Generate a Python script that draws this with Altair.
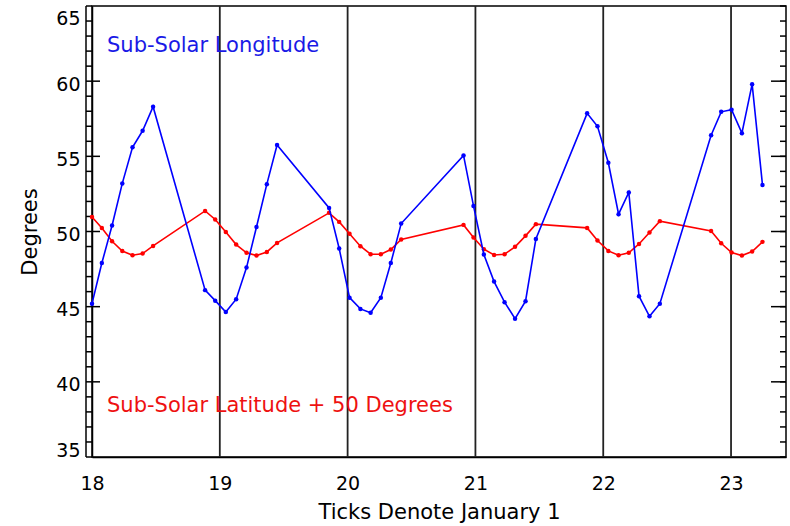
import altair as alt
import pandas as pd

days = [18.0, 18.077, 18.157, 18.237, 18.317, 18.396, 18.478,
        18.885, 18.964, 19.047, 19.128, 19.209, 19.287, 19.368, 19.448,
        19.855, 19.934, 20.015, 20.1, 20.18, 20.26, 20.338, 20.419,
        20.907, 20.985, 21.066, 21.146, 21.228, 21.31, 21.392, 21.473,
        21.874, 21.955, 22.04, 22.12, 22.2, 22.28, 22.362, 22.443,
        22.844, 22.923, 23.004, 23.085, 23.165, 23.246]

longitude = [45.2, 47.9, 50.4, 53.2, 55.6, 56.7, 58.3,
             46.1, 45.4, 44.65, 45.5, 47.6, 50.3, 53.15, 55.75,
             51.57, 48.87, 45.6, 44.85, 44.6, 45.6, 47.9, 50.53,
             55.06, 51.7, 48.47, 46.67, 45.3, 44.2, 45.36, 49.5,
             57.86, 57.0, 54.57, 51.15, 52.6, 45.7, 44.36, 45.2,
             56.4, 57.96, 58.1, 56.54, 59.8, 53.1]

latitude_plus_50 = [50.97, 50.24, 49.35, 48.7, 48.42, 48.53, 49.04,
                    51.37, 50.8, 49.97, 49.13, 48.58, 48.4, 48.64, 49.24,
                    51.24, 50.64, 49.85, 49.02, 48.49, 48.49, 48.8, 49.47,
                    50.44, 49.6, 48.82, 48.44, 48.49, 48.98, 49.71, 50.49,
                    50.24, 49.4, 48.71, 48.42, 48.58, 49.17, 49.93, 50.69,
                    50.04, 49.22, 48.6, 48.4, 48.67, 49.31]

jan1_ticks = [19, 20, 21, 22, 23]
x_labels = [18, 19, 20, 21, 22, 23]
y_minor = list(range(35, 66))
y_labels = [35, 40, 45, 50, 55, 60, 65]
y_major_inner = [40, 45, 50, 55, 60]

label_long = "Sub-Solar Longitude"
label_lat = "Sub-Solar Latitude + 50 Degrees"
x_title = "Ticks Denote January 1"
y_title = "Degrees"

FONT = "DejaVu Sans"
W, H = 694, 451

df = pd.DataFrame({"day": days, "lon": longitude, "lat": latitude_plus_50})

xscale = alt.Scale(domain=[18, 23.43], nice=False, zero=False)
yscale = alt.Scale(domain=[35, 65], nice=False, zero=False)

base = alt.Chart(df)

lon_line = base.mark_line(color="#0000ff", strokeWidth=1.6,
                          point=alt.OverlayMarkDef(color="#0000ff", size=20, filled=True)).encode(
    x=alt.X("day:Q", scale=xscale,
            axis=alt.Axis(values=x_labels, format="d", title=x_title, tickSize=0, labelPadding=17,
                          labelFlush=False, labelOverlap=False,
                          grid=False, labelFontSize=19, titleFontSize=21, titlePadding=8,
                          labelFont=FONT, titleFont=FONT, titleFontWeight="normal",
                          labelColor="black", titleColor="black", domainColor="black",
                          domainWidth=1.5)),
    y=alt.Y("lon:Q", scale=yscale,
            axis=alt.Axis(values=y_labels, format="d", title=y_title, tickSize=0, labelPadding=12,
                          labelFlush=True, labelOffset=3, labelOverlap=False,
                          grid=False, labelFontSize=19, titleFontSize=21, titlePadding=15,
                          labelFont=FONT, titleFont=FONT, titleFontWeight="normal",
                          labelColor="black", titleColor="black", domainColor="black",
                          domainWidth=1.5)),
)

lat_line = base.mark_line(color="#ff0000", strokeWidth=1.6,
                          point=alt.OverlayMarkDef(color="#ff0000", size=20, filled=True)).encode(
    x=alt.X("day:Q", scale=xscale),
    y=alt.Y("lat:Q", scale=yscale),
)

vlines = alt.Chart(pd.DataFrame({"d": jan1_ticks})).mark_rule(color="#222222", strokeWidth=1.8).encode(
    x=alt.X("d:Q", scale=xscale)
)

minor_df = pd.DataFrame({"v": y_minor})
major_df = pd.DataFrame({"v": y_major_inner})

right_minor = alt.Chart(minor_df).mark_rule(color="black", strokeWidth=1.5).encode(
    y=alt.Y("v:Q", scale=yscale), x=alt.value(W - 6), x2=alt.value(W)
)
right_major = alt.Chart(major_df).mark_rule(color="black", strokeWidth=1.5).encode(
    y=alt.Y("v:Q", scale=yscale), x=alt.value(W - 15), x2=alt.value(W)
)
left_minor = alt.Chart(minor_df).mark_rule(color="black", strokeWidth=1.5).encode(
    y=alt.Y("v:Q", scale=yscale), x=alt.value(-6), x2=alt.value(0)
)
left_major = alt.Chart(major_df).mark_rule(color="black", strokeWidth=1.5).encode(
    y=alt.Y("v:Q", scale=yscale), x=alt.value(0), x2=alt.value(8)
)
left_outer = alt.Chart(pd.DataFrame({"v": [35]})).mark_rule(color="black", strokeWidth=1.5).encode(
    x=alt.value(-6), y=alt.value(0), y2=alt.value(H)
)

txt_lon = alt.Chart(pd.DataFrame({"t": [label_long]})).mark_text(
    color="#1a1ae6", font=FONT, fontSize=21, align="left", baseline="alphabetic").encode(
    text="t:N", x=alt.value(15), y=alt.value(46))
txt_lat = alt.Chart(pd.DataFrame({"t": [label_lat]})).mark_text(
    color="#ee1111", font=FONT, fontSize=21, align="left", baseline="alphabetic").encode(
    text="t:N", x=alt.value(15), y=alt.value(406))

chart = alt.layer(
    vlines, right_minor, right_major, left_minor, left_major, left_outer,
    lat_line, lon_line, txt_lon, txt_lat
).properties(
    width=W, height=H,
    autosize=alt.AutoSizeParams(type="none"),
    padding={"left": 92, "top": 6, "right": 4, "bottom": 69},
    background="white",
).configure_view(stroke="black", strokeWidth=1.5)

chart.save("out.html", embed_options={"renderer": "svg", "actions": False})
